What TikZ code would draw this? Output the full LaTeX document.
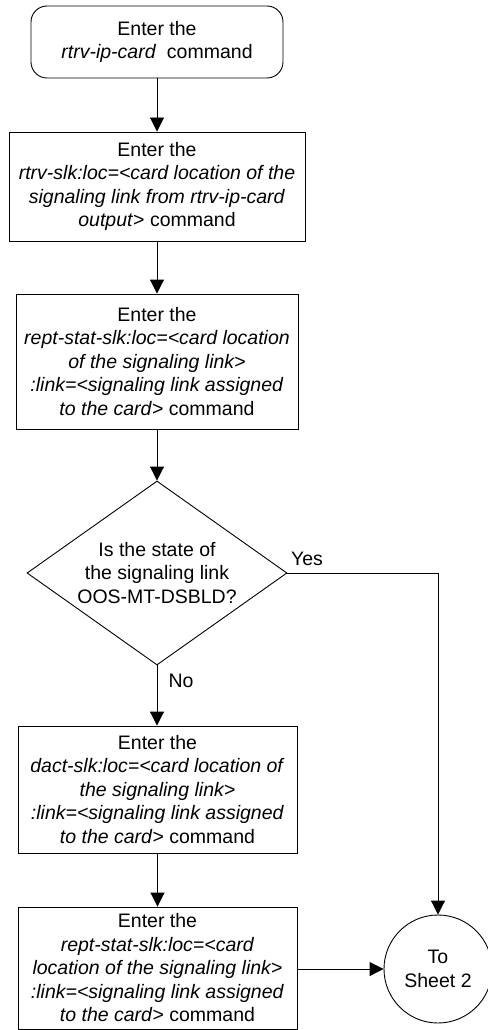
\documentclass[tikz,border=0pt]{standalone}
\usepackage{fontspec}
\setmainfont{Liberation Sans}
\usetikzlibrary{shapes.geometric,arrows.meta}
\begin{document}
\begin{tikzpicture}[x=1pt,y=-1pt,
  every node/.style={font=\fontsize{19.5}{23.5}\selectfont, align=center, inner sep=0pt},
  box/.style={draw, line width=0.9pt, rectangle},
  flow/.style={draw, line width=0.9pt, -{Triangle[length=14pt,width=14pt]}}]
\useasboundingbox (0,0) rectangle (487,1030);
\node[box, rounded corners=16pt, minimum width=252pt, minimum height=72pt] (s1) at (157,42)
  {Enter the\\ \textit{rtrv-ip-card}\ \ command};
\node[box, minimum width=296pt, minimum height=109pt] (s2) at (157,186.5)
  {Enter the\\ \textit{rtrv-slk:loc=<card location of the}\\ \textit{signaling link from rtrv-ip-card}\\ \textit{output}> command};
\node[box, minimum width=282pt, minimum height=135pt] (s3) at (157,361.5)
  {Enter the\\ \textit{rept-stat-slk:loc=<card location}\\ \textit{of the signaling link>}\\ \textit{:link=<signaling link assigned}\\ \textit{to the card}> command};
\node[diamond, draw, line width=0.9pt, aspect=1.413, minimum width=260pt, minimum height=184pt] (d1) at (157,573)
  {Is the state of\\ the signaling link\\ OOS-MT-DSBLD?};
\node[box, minimum width=279pt, minimum height=127pt] (s4) at (157.5,789.5)
  {Enter the\\ \textit{dact-slk:loc=<card location of}\\ \textit{the signaling link>}\\ \textit{:link=<signaling link assigned}\\ \textit{to the card}> command};
\node[box, minimum width=279pt, minimum height=122pt] (s5) at (157.5,968)
  {Enter the\\ \textit{rept-stat-slk:loc=<card}\\ \textit{location of the signaling link>}\\ \textit{:link=<signaling link assigned}\\ \textit{to the card}> command};
\node[circle, draw, line width=0.9pt, minimum size=108pt] (c1) at (438,969) {To\\ Sheet 2};
\node (yes) at (307,559) {Yes};
\node (no) at (181,681) {No};
\draw[flow] (s1.south) -- (s2.north);
\draw[flow] (s2.south) -- (s3.north);
\draw[flow] (s3.south) -- (d1.north);
\draw[flow] (d1.south) -- (s4.north -| d1.south);
\draw[flow] (s4.south) -- (s5.north);
\draw[flow] (d1.east) -| (c1.north);
\draw[flow] (s5.east |- c1.west) -- (c1.west);
\end{tikzpicture}
\end{document}
